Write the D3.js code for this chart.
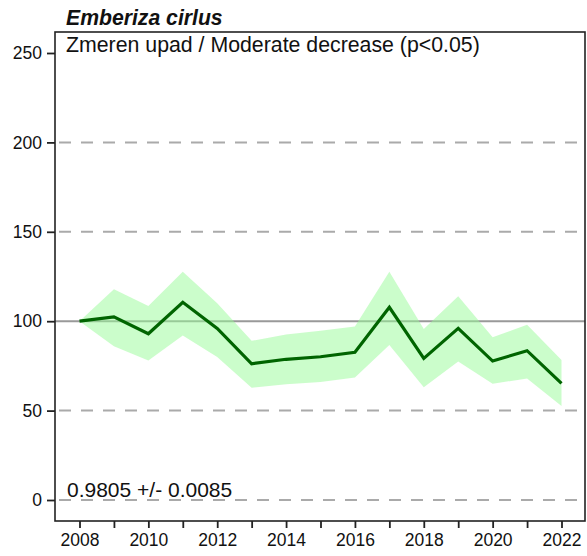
<!DOCTYPE html>
<html><head><meta charset="utf-8">
<script src="https://cdn.jsdelivr.net/npm/d3@7"></script>
<style>body{margin:0;background:#fff}svg{display:block}text{font-family:Arial,"Liberation Sans",sans-serif}</style>
</head><body>
<script>
const years = [2008,2009,2010,2011,2012,2013,2014,2015,2016,2017,2018,2019,2020,2021,2022];
const index = [100,102.4,93,110.6,96,76.2,78.7,80.1,82.6,107.8,79.2,96,77.7,83.5,65.2];
const upper = [100,117.8,108.5,127.7,110,89,92.6,94.7,97,127.7,95.6,114,91,98,78.3];
const lower = [100,86,78,92,80,62.8,64.7,66,68.5,86.7,63,77.4,65,68,52.6];
const yTicks = [0,50,100,150,200,250];
const xTicks = [2008,2010,2012,2014,2016,2018,2020,2022];
const dashedRefs = [0,50,150,200];
const title = "Emberiza cirlus";
const subtitle = "Zmeren upad / Moderate decrease (p<0.05)";
const trendText = "0.9805 +/- 0.0085";

const W=587,H=556, L=55, R=585, T=32, B=521;
const svg=d3.select("body").append("svg").attr("width",W).attr("height",H);
const x=d3.scaleLinear().domain([2008,2022]).range([79.5,561.5]);
const y=d3.scaleLinear().domain([0,250]).range([500,53]);

// reference lines
svg.selectAll("line.ref").data(dashedRefs).enter().append("line")
  .attr("x1",L).attr("x2",R).attr("y1",d=>y(d)).attr("y2",d=>y(d))
  .attr("stroke","#aaaaaa").attr("stroke-width",2).attr("stroke-dasharray","12,10")
  .attr("stroke-dashoffset",-4);
svg.append("line").attr("x1",L).attr("x2",R).attr("y1",y(100)).attr("y2",y(100))
  .attr("stroke","#999999").attr("stroke-width",2);

// band
const area=d3.area().x((d,i)=>x(years[i])).y0((d,i)=>y(lower[i])).y1((d,i)=>y(upper[i]));
svg.append("path").datum(years).attr("d",area).attr("fill","#98fb98").attr("fill-opacity",0.5);

// line
const line=d3.line().x((d,i)=>x(years[i])).y(d=>y(d));
svg.append("path").datum(index).attr("d",line).attr("fill","none")
  .attr("stroke","#006400").attr("stroke-width",3.2).attr("stroke-linejoin","miter");

// box
svg.append("rect").attr("x",L).attr("y",T).attr("width",R-L).attr("height",B-T)
  .attr("fill","none").attr("stroke","#222").attr("stroke-width",1.6);

// axes
const ya=svg.append("g").attr("transform",`translate(${L},0)`)
  .call(d3.axisLeft(y).tickValues(yTicks).tickSize(8).tickPadding(5).tickFormat(d3.format("d")));
ya.select(".domain").remove();
ya.selectAll("line").attr("stroke","#222").attr("stroke-width",1.8);
ya.selectAll("text").attr("font-size",17.5).attr("fill","#111").attr("font-family","Arial, 'Liberation Sans', sans-serif");

const xa=svg.append("g").attr("transform",`translate(0,${B})`)
  .call(d3.axisBottom(x).tickValues(years).tickSize(7).tickPadding(6).tickFormat(d=>xTicks.includes(d)?String(d):""));
xa.select(".domain").remove();
xa.selectAll("line").attr("stroke","#222").attr("stroke-width",1.8);
xa.selectAll("text").attr("font-size",17.5).attr("fill","#111").attr("font-family","Arial, 'Liberation Sans', sans-serif");

// texts
svg.append("text").attr("x",66).attr("y",25).attr("font-size",21.2).attr("font-weight","bold")
  .attr("font-style","italic").attr("fill","#111").text(title);
svg.append("text").attr("x",66).attr("y",52).attr("font-size",21.3).attr("fill","#111").text(subtitle);
svg.append("text").attr("x",67).attr("y",497).attr("font-size",21).attr("fill","#111").text(trendText);
</script>
</body></html>
